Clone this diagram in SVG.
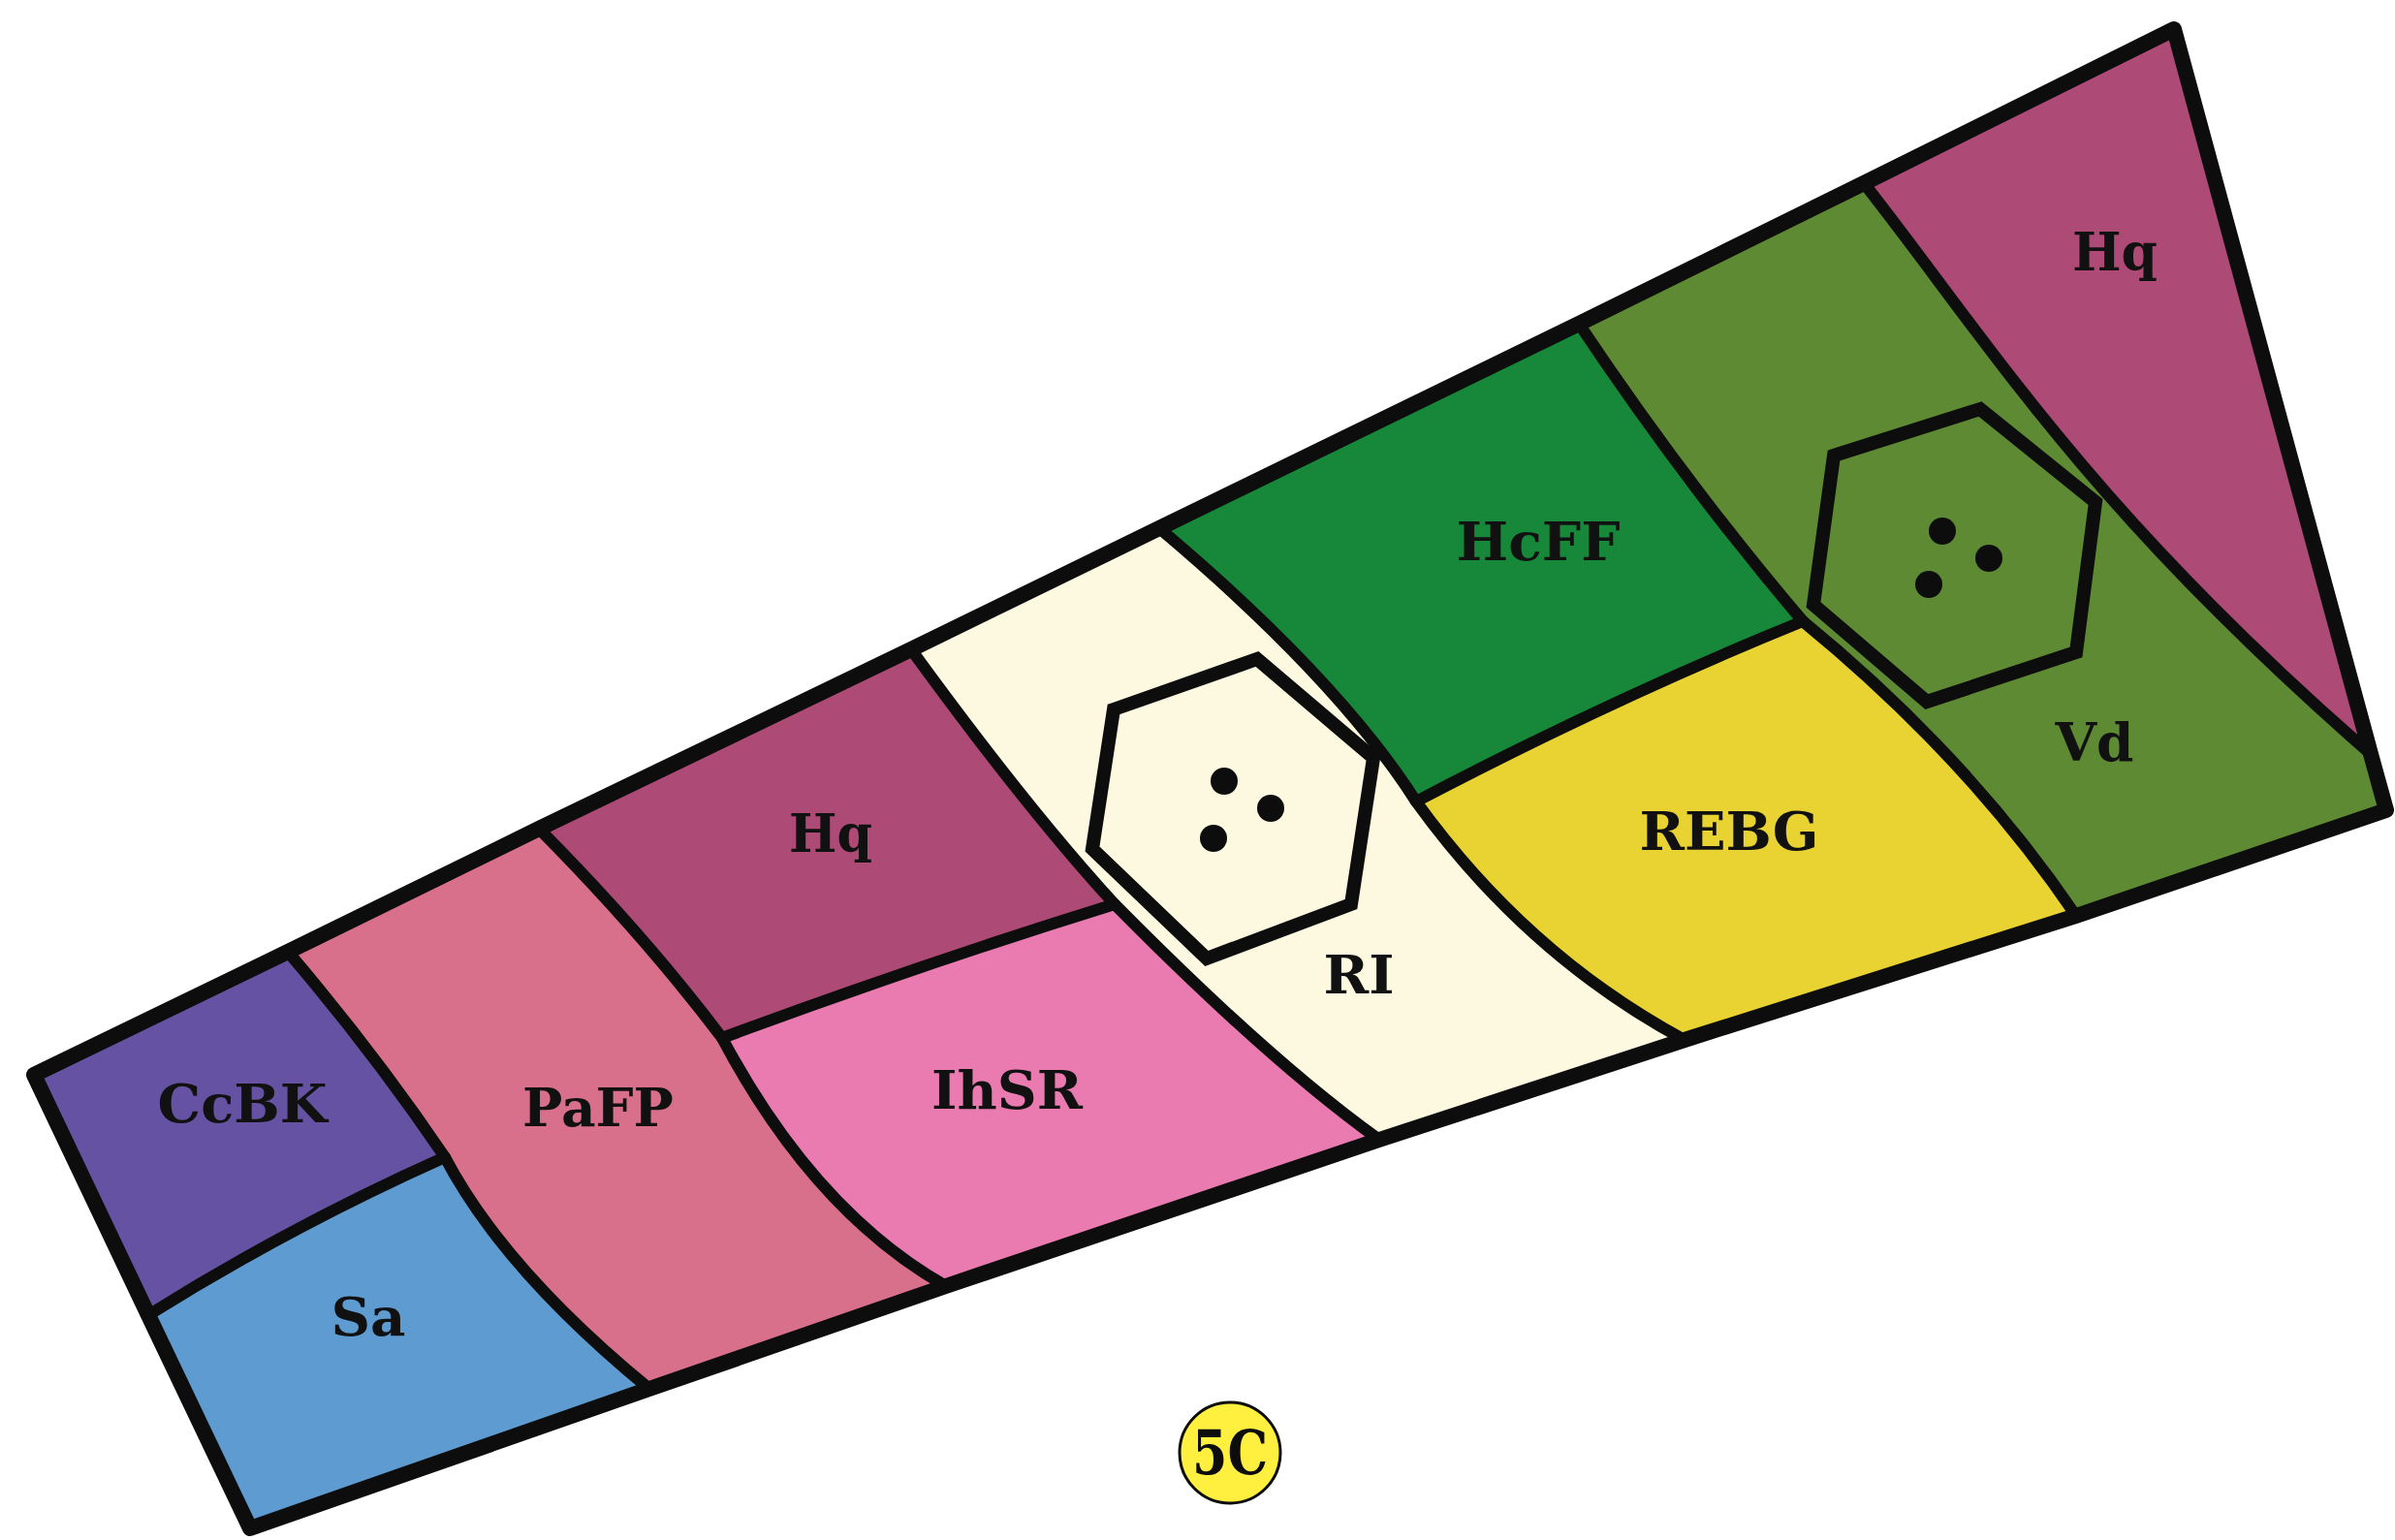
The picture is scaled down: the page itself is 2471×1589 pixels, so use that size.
<svg xmlns="http://www.w3.org/2000/svg" width="2471" height="1589" viewBox="0 0 2471 1589">
<style>
.reg{stroke:none}
.lbl{font-family:"DejaVu Serif","Liberation Serif",serif;font-weight:bold;font-size:55px;fill:#111111;text-anchor:middle}
.bd{fill:none;stroke:#0d0d0d;stroke-width:12;stroke-linejoin:round;stroke-linecap:round}
.outer{fill:none;stroke:#0d0d0d;stroke-width:16;stroke-linejoin:round}
.hex{stroke:#0d0d0d;stroke-width:14;stroke-linejoin:miter}
.dot{fill:#0d0d0d}
</style>
<rect width="2471" height="1589" fill="#ffffff"/>
<g id="CcBK">
<path class="reg" fill="#6652a3" d="M35,1109 L297,982 Q385,1085 459,1194 Q300,1265 153,1357 Z"/>
<text class="lbl" x="250" y="1158" textLength="175" lengthAdjust="spacingAndGlyphs">CcBK</text>
</g>
<g id="Sa">
<path class="reg" fill="#5e9bd0" d="M153,1357 Q300,1265 459,1194 Q520,1310 670,1433 L258,1577 Z"/>
<text class="lbl" x="380" y="1378" textLength="77" lengthAdjust="spacingAndGlyphs">Sa</text>
</g>
<g id="PaFP">
<path class="reg" fill="#d9708b" d="M297,982 L556,855 Q665,965 745,1071 Q840,1250 976,1327 L670,1433 Q520,1310 459,1194 Q385,1085 297,982 Z"/>
<text class="lbl" x="617" y="1162" textLength="156" lengthAdjust="spacingAndGlyphs">PaFP</text>
</g>
<g id="Hq-left">
<path class="reg" fill="#ae4a76" d="M556,855 L940,670 Q1060,835 1150,933 Q950,995 745,1071 Q665,965 556,855 Z"/>
<text class="lbl" x="857" y="879" textLength="86" lengthAdjust="spacingAndGlyphs">Hq</text>
</g>
<g id="IhSR">
<path class="reg" fill="#e97bb0" d="M745,1071 Q950,995 1150,933 Q1310,1095 1423,1176 L976,1327 Q840,1250 745,1071 Z"/>
<text class="lbl" x="1039" y="1144" textLength="156" lengthAdjust="spacingAndGlyphs">IhSR</text>
</g>
<g id="RI">
<path class="reg" fill="#fdf8e0" d="M940,670 L1196,545 Q1380,700 1461,827 Q1575,985 1738,1073 L1423,1176 Q1310,1095 1150,933 Q1060,835 940,670 Z"/>
<text class="lbl" x="1402" y="1025" textLength="73" lengthAdjust="spacingAndGlyphs">RI</text>
</g>
<g id="HcFF">
<path class="reg" fill="#17883a" d="M1196,545 L1629,334 Q1740,500 1860,641 Q1665,720 1461,827 Q1380,700 1196,545 Z"/>
<text class="lbl" x="1587" y="578" textLength="169" lengthAdjust="spacingAndGlyphs">HcFF</text>
</g>
<g id="REBG">
<path class="reg" fill="#e8d333" d="M1461,827 Q1665,720 1860,641 Q2030,780 2142,945 L1738,1073 Q1575,985 1461,827 Z"/>
<text class="lbl" x="1784" y="877" textLength="185" lengthAdjust="spacingAndGlyphs">REBG</text>
</g>
<g id="Vd">
<path class="reg" fill="#5f8a34" d="M1629,334 L1923,189 C2050,350 2150,520 2446,778 L2462,836 L2142,945 Q2030,780 1860,641 Q1740,500 1629,334 Z"/>
<text class="lbl" x="2161" y="785" textLength="81" lengthAdjust="spacingAndGlyphs">Vd</text>
</g>
<g id="Hq-right">
<path class="reg" fill="#ae4a76" d="M1923,189 L2243,30 L2446,778 C2150,520 2050,350 1923,189 Z"/>
<text class="lbl" x="2182" y="279" textLength="88" lengthAdjust="spacingAndGlyphs">Hq</text>
</g>
<g id="connectors">
<path class="bd" d="M297,982 Q385,1085 459,1194 Q520,1310 670,1433"/>
<path class="bd" d="M153,1357 Q300,1265 459,1194"/>
<path class="bd" d="M556,855 Q665,965 745,1071 Q840,1250 976,1327"/>
<path class="bd" d="M745,1071 Q950,995 1150,933"/>
<path class="bd" d="M940,670 Q1060,835 1150,933 Q1310,1095 1423,1176"/>
<path class="bd" d="M1196,545 Q1380,700 1461,827 Q1575,985 1738,1073"/>
<path class="bd" d="M1461,827 Q1665,720 1860,641"/>
<path class="bd" d="M1629,334 Q1740,500 1860,641"/>
<path class="bd" d="M1860,641 Q2030,780 2142,945"/>
<path class="bd" d="M1923,189 C2050,350 2150,520 2446,778"/>
<path class="outer" d="M35,1109 L297,982 L556,855 L940,670 L1196,545 L1629,334 L1923,189 L2243,30 L2446,778 L2462,836 L2142,945 L1738,1073 L1423,1176 L976,1327 L670,1433 L258,1577 L153,1357 Z"/>
</g>
<g id="hexagon-RI">
<polygon class="hex" fill="#fdf8e0" points="1149,732 1297,680 1417,782 1394,933 1245,989 1127,876"/>
<circle class="dot" cx="1263" cy="806" r="14"/>
<circle class="dot" cx="1311" cy="834" r="14"/>
<circle class="dot" cx="1252" cy="865" r="14"/>
</g>
<g id="hexagon-Vd">
<polygon class="hex" fill="#5f8a34" points="1892,470 2043,422 2162,518 2142,673 1988,724 1871,624"/>
<circle class="dot" cx="2004" cy="548" r="14"/>
<circle class="dot" cx="2052" cy="576" r="14"/>
<circle class="dot" cx="1990" cy="603" r="14"/>
</g>
<g id="label-5C">
<circle cx="1269" cy="1499" r="52" fill="#ffef3f" stroke="#0d0d0d" stroke-width="3"/>
<text x="1269" y="1521" font-family="DejaVu Serif, Liberation Serif, serif" font-weight="bold" font-size="64" fill="#0d0d0d" text-anchor="middle" textLength="78" lengthAdjust="spacingAndGlyphs">5C</text>
</g>
</svg>
